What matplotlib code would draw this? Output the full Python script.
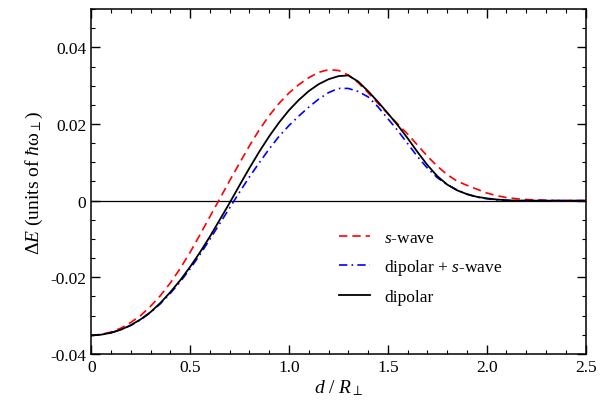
import matplotlib
matplotlib.use("Agg")
import matplotlib.pyplot as plt
import numpy as np

plt.rcParams['font.family'] = ['Liberation Serif', 'DejaVu Serif']
plt.rcParams['mathtext.fontset'] = 'custom'
plt.rcParams['mathtext.rm'] = 'Liberation Serif'
plt.rcParams['mathtext.it'] = 'Liberation Serif:italic'
plt.rcParams['mathtext.fallback'] = 'stix'

# d / R_perp sampled every 0.05
d = np.round(np.arange(0, 2.5001, 0.05), 2)

# s-wave
e_swave = [
    -0.0352, -0.0349, -0.0343, -0.0333, -0.0318, -0.0300, -0.0276, -0.0248, -0.0215, -0.0177,
    -0.0135, -0.0089, -0.0042, 0.0005, 0.0052, 0.0098, 0.0143, 0.0185, 0.0222, 0.0254,
    0.0281, 0.0303, 0.0321, 0.0335, 0.0342, 0.0340, 0.0328, 0.0308, 0.0282, 0.0254,
    0.0227, 0.0200, 0.0174, 0.0145, 0.0116, 0.0090, 0.0068, 0.0051, 0.0040, 0.0030,
    0.0020, 0.0013, 0.0008, 0.0005, 0.0003, 0.0002, 0.0001, 0.0, 0.0, 0.0, 0.0,
]

# dipolar + s-wave
e_dip_s = [
    -0.0352, -0.0350, -0.0345, -0.0337, -0.0326, -0.0311, -0.0292, -0.0269, -0.0242, -0.0212,
    -0.0178, -0.0141, -0.0101, -0.0060, -0.0019, 0.0022, 0.0062, 0.0099, 0.0135, 0.0168,
    0.0196, 0.0221, 0.0244, 0.0265, 0.0282, 0.0293, 0.0293, 0.0285, 0.0271, 0.0245,
    0.0214, 0.0183, 0.0149, 0.0115, 0.0085, 0.0060, 0.0042, 0.0028, 0.0017, 0.0009,
    0.0005, 0.0002, 0.0001, 0.0, 0.0, 0.0, 0.0, 0.0, 0.0, 0.0, 0.0,
]

# dipolar
e_dipolar = [
    -0.0352, -0.0350, -0.0345, -0.0337, -0.0325, -0.0310, -0.0291, -0.0267, -0.0239, -0.0208,
    -0.0173, -0.0135, -0.0094, -0.0050, -0.0006, 0.0040, 0.0085, 0.0128, 0.0168, 0.0204,
    0.0236, 0.0263, 0.0286, 0.0304, 0.0317, 0.0325, 0.0327, 0.0311, 0.0286, 0.0258,
    0.0228, 0.0197, 0.0163, 0.0127, 0.0093, 0.0064, 0.0042, 0.0027, 0.0017, 0.0010,
    0.0006, 0.0003, 0.0001, 0.0, 0.0, 0.0, 0.0, 0.0, 0.0, 0.0, 0.0,
]

fig = plt.figure(figsize=(6, 4.06), dpi=100)
ax = fig.add_axes([0.152, 0.126, 0.824, 0.849])

ax.axhline(0, color='black', lw=0.9, zorder=1)
ax.plot(d, e_swave, color='red', lw=1.2, dashes=(5, 3), label=r'$s$-wave')
ax.plot(d, e_dip_s, color='blue', lw=1.2, dashes=(5, 2.5, 1, 2.5), label=r'dipolar + $s$-wave')
ax.plot(d, e_dipolar, color='black', lw=1.3, label='dipolar')

ax.set_xlim(0, 2.5)
ax.set_ylim(-0.04, 0.05)
ax.set_xticks([0, 0.5, 1.0, 1.5, 2.0, 2.5])
ax.set_xticklabels(['0', '0.5', '1.0', '1.5', '2.0', '2.5'])
ax.set_yticks([-0.04, -0.02, 0, 0.02, 0.04])
ax.set_yticklabels(['-0.04', '-0.02', '0', '0.02', '0.04'])
ax.set_xticks(np.arange(0, 2.51, 0.1), minor=True)
ax.set_yticks(np.arange(-0.04, 0.0501, 0.005), minor=True)
ax.tick_params(which='both', direction='in', top=True, right=True, labelsize=12.5)
ax.tick_params(which='major', length=6.5, width=1)
ax.tick_params(which='minor', length=3, width=0.8)
for s in ax.spines.values():
    s.set_linewidth(1.1)

ax.set_xlabel(r'$d$ / $R_{\perp}$', fontsize=14, labelpad=2)
ax.set_ylabel(r'$\Delta E$ (units of $\hbar\mathrm{\omega}_{\perp}$)', fontsize=14, labelpad=4)

ax.legend(loc='upper left', bbox_to_anchor=(0.47, 0.405), frameon=False, fontsize=12.5,
          handlelength=1.75, labelspacing=0.65, handletextpad=0.85)

fig.savefig('out.png', dpi=100)
